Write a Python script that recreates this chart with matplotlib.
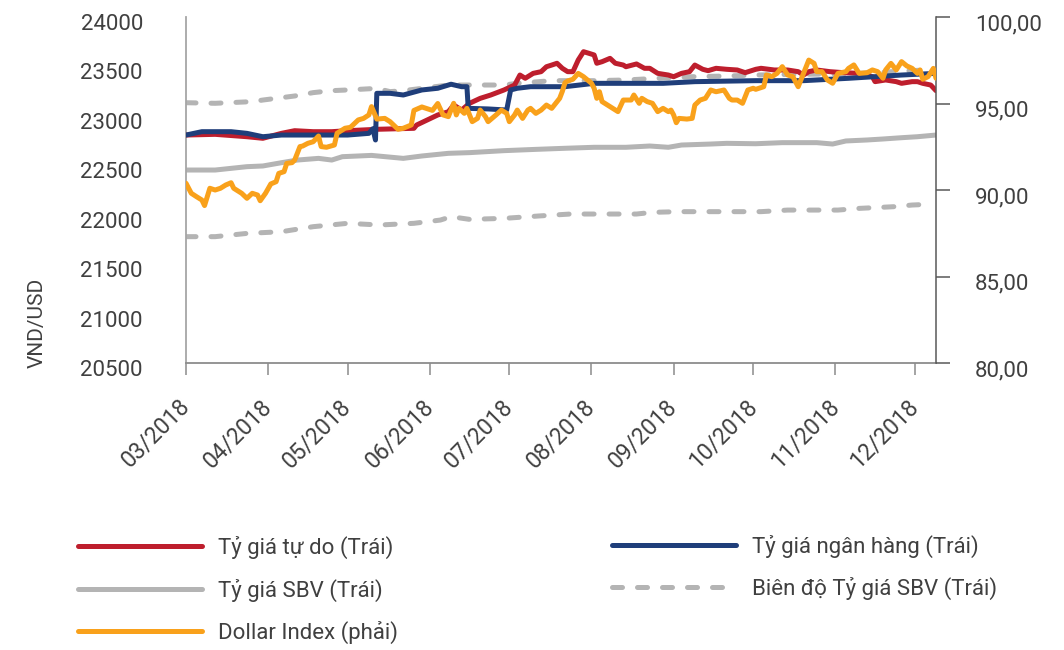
import numpy as np
import matplotlib
matplotlib.use('Agg')
import matplotlib.pyplot as plt
import matplotlib.dates as mdates
import matplotlib.transforms as mtransforms
from matplotlib.lines import Line2D
from matplotlib.ticker import FuncFormatter

plt.rcParams['font.family'] = ['Roboto', 'DejaVu Sans']

# ---------------- data (x = days since 2018-03-01) ----------------
start_date = '2018-03-01'
end_day = 283

free_days = [0, 11, 23, 29, 36, 41, 48, 55, 61, 72, 86, 87, 91, 95, 99, 101, 104, 107, 111, 115,
             120, 124, 126, 128, 131, 134, 136, 138, 140, 142, 144, 146, 148, 150, 152, 154, 155, 157, 160, 162,
             165, 166, 170, 173, 175, 178, 182, 184, 187, 190, 192, 195, 197, 200, 204, 208, 211, 215, 217, 222,
             227, 231, 233, 235, 238, 243, 248, 254, 259, 260, 264, 268, 270, 274, 276, 278, 281, 283]
free_vals = [22806, 22813, 22789, 22773, 22823, 22850, 22840, 22840, 22850, 22864, 22874, 22907, 22958, 23009, 23042, 23110, 23059, 23127, 23177, 23211,
             23262, 23312, 23413, 23380, 23430, 23447, 23497, 23514, 23532, 23481, 23447, 23447, 23565, 23649, 23633, 23616, 23532, 23548, 23582, 23532,
             23514, 23497, 23525, 23481, 23481, 23430, 23413, 23396, 23430, 23447, 23514, 23471, 23457, 23481, 23471, 23464, 23437, 23471, 23481, 23464,
             23464, 23447, 23413, 23447, 23464, 23447, 23437, 23430, 23396, 23346, 23363, 23346, 23329, 23346, 23346, 23329, 23312, 23255]

bank_days = [0, 6, 17, 23, 29, 36, 48, 61, 69, 70.5, 71.5, 72, 77, 82, 89, 95, 100, 104, 106, 106.5,
             114, 121, 122.5, 125, 130, 143, 154, 180, 192, 215, 233, 250, 270, 283]
bank_vals = [22806, 22840, 22840, 22823, 22789, 22806, 22806, 22806, 22823, 22870, 22756, 23228, 23228, 23211, 23262, 23279, 23320, 23295, 23295, 23076,
             23070, 23059, 23262, 23279, 23295, 23295, 23329, 23329, 23346, 23356, 23356, 23380, 23413, 23430]

sbv_days = [0, 11, 17, 23, 29, 36, 42, 50, 55, 59, 70, 82, 89, 99, 107, 120, 132, 143, 154, 166,
            175, 182, 187, 198, 204, 215, 225, 238, 244, 249, 257, 263, 270, 276, 283]
sbv_vals = [22452, 22452, 22469, 22486, 22493, 22526, 22553, 22570, 22553, 22587, 22600, 22570, 22594, 22621, 22628, 22648, 22661, 22672, 22682, 22682,
            22695, 22682, 22705, 22715, 22722, 22718, 22729, 22729, 22715, 22746, 22756, 22766, 22779, 22789, 22806]

band_up_days = [0, 11, 25, 29, 41, 48, 55, 61, 72, 77, 82, 89, 99, 107, 120, 125, 138, 154, 166, 178,
                191, 204, 215, 230, 250, 265, 283]
band_up_vals = [23133, 23127, 23144, 23160, 23201, 23235, 23255, 23262, 23278, 23245, 23255, 23278, 23312, 23312, 23312, 23329, 23356, 23356, 23363, 23380,
                23396, 23403, 23413, 23420, 23425, 23445, 23470]

band_lo_days = [0, 11, 23, 36, 48, 61, 73, 86, 96, 100, 107, 120, 133, 145, 157, 170, 176, 186, 204, 217,
                227, 246, 254, 267, 274, 280]
band_lo_vals = [21778, 21778, 21811, 21828, 21879, 21913, 21896, 21913, 21946, 21980, 21953, 21963, 21987, 22007, 22007, 22007, 22024, 22031, 22031, 22031,
                22047, 22047, 22064, 22081, 22098, 22105]

dxy_days = [0, 2, 4, 6, 7, 9, 11, 13, 15, 17, 18, 21, 23, 25, 27, 28, 30, 32, 34, 35,
            37, 38, 40, 41, 43, 44, 46, 48, 50, 51, 53, 56, 57, 60, 62, 63, 65, 67, 69, 70,
            72, 75, 77, 80, 82, 85, 86, 89, 91, 93, 95, 97, 99, 101, 102, 103, 105, 106, 108, 110,
            111, 113, 114, 117, 119, 121, 122, 124, 125, 127, 129, 130, 132, 134, 136, 138, 140, 141, 142, 143,
            144, 146, 148, 150, 153, 154, 155, 156, 157, 160, 163, 165, 168, 169, 171, 172, 174, 176, 178, 180,
            182, 183, 184, 185, 186, 189, 191, 192, 194, 196, 198, 200, 203, 205, 206, 208, 210, 212, 214, 215,
            218, 219, 221, 223, 225, 227, 229, 231, 233, 235, 237, 238, 240, 242, 244, 246, 249, 250, 252, 254,
            257, 259, 261, 263, 264, 266, 268, 270, 272, 274, 276, 277, 278, 280, 282, 283]
dxy_vals = [90.39, 89.81, 89.61, 89.42, 89.10, 90.10, 90.00, 90.10, 90.29, 90.42, 90.10, 89.81, 89.52, 89.81, 89.71, 89.38, 89.81, 90.35, 90.48, 90.96,
            91.06, 91.54, 91.58, 91.73, 92.51, 92.54, 92.70, 92.79, 93.12, 92.51, 92.47, 92.60, 93.28, 93.57, 93.62, 93.76, 94.05, 94.14, 94.34, 94.82,
            94.10, 94.14, 93.95, 93.51, 93.57, 93.76, 94.60, 94.80, 94.70, 94.60, 95.00, 94.34, 94.24, 95.01, 94.34, 94.72, 94.43, 94.72, 93.95, 94.14,
            94.62, 94.24, 93.95, 94.34, 94.62, 94.43, 93.95, 94.34, 94.62, 94.14, 94.62, 94.72, 94.43, 94.62, 94.91, 94.72, 95.11, 95.30, 95.70, 96.20,
            96.30, 96.40, 96.74, 96.55, 96.17, 95.88, 95.30, 95.68, 95.11, 94.82, 94.53, 95.20, 95.20, 95.49, 95.01, 95.30, 95.11, 95.01, 94.53, 94.72,
            94.53, 94.62, 94.34, 93.89, 94.14, 94.10, 94.14, 94.91, 95.20, 95.30, 95.78, 95.68, 95.78, 95.30, 95.20, 95.20, 95.01, 95.78, 95.88, 95.82,
            95.97, 96.65, 96.55, 96.74, 97.13, 96.65, 96.55, 95.97, 96.74, 97.51, 97.32, 96.84, 96.84, 96.36, 96.17, 96.74, 96.84, 97.03, 97.23, 96.74,
            96.78, 96.94, 96.84, 96.46, 96.94, 97.32, 96.94, 97.42, 97.17, 97.03, 96.74, 96.94, 96.40, 96.55, 97.03, 96.46]

left_ticks = [20500, 21000, 21500, 22000, 22500, 23000, 23500, 24000]
right_ticks = [80, 85, 90, 95, 100]

labels = ['Tỷ giá tự do (Trái)', 'Tỷ giá ngân hàng (Trái)', 'Tỷ giá SBV (Trái)',
          'Biên độ Tỷ giá SBV (Trái)', 'Dollar Index (phải)']

# ---------------- styles ----------------
RED = '#BE1E2D'
BLUE = '#1F3E7A'
GRAY = '#B4B4B4'
ORANGE = '#F9A11B'
TXT = '#404040'
LW = 3.6
DASH = (2.0, 3.0)

t0 = np.datetime64(start_date)


def to_dates(days):
    return t0 + np.round(np.asarray(days, dtype=float) * 24).astype('timedelta64[h]')


fig = plt.figure(figsize=(10.64, 6.5), dpi=100)
W, H = 1064, 650
ax = fig.add_axes([186 / W, 1 - 363 / H, (936 - 186) / W, (363 - 17) / H])
ax2 = ax.twinx()

common = dict(lw=LW, solid_capstyle='round', solid_joinstyle='round')
ax.plot(to_dates(band_up_days), band_up_vals, color=GRAY, lw=LW, dashes=DASH,
        dash_capstyle='round', zorder=1)
ax.plot(to_dates(band_lo_days), band_lo_vals, color=GRAY, lw=LW, dashes=DASH,
        dash_capstyle='round', zorder=1)
ax.plot(to_dates(sbv_days), sbv_vals, color=GRAY, zorder=2, **common)
ax.plot(to_dates(free_days), free_vals, color=RED, zorder=3, **common)
ax.plot(to_dates(bank_days), bank_vals, color=BLUE, zorder=4, **common)
ax2.plot(to_dates(dxy_days), dxy_vals, color=ORANGE, zorder=5, **common)

ax.set_xlim(to_dates([0])[0], to_dates([end_day])[0])
ax.set_ylim(20500, 24000)
ax.set_yticks(left_ticks)
ax2.set_ylim(80, 100)
ax2.set_yticks(right_ticks)
ax2.yaxis.set_major_formatter(FuncFormatter(lambda v, p: f'{v:.2f}'.replace('.', ',')))

ax.xaxis.set_major_locator(mdates.MonthLocator())
ax.xaxis.set_major_formatter(mdates.DateFormatter('%m/%Y'))

for a in (ax, ax2):
    a.spines['top'].set_visible(False)
ax.spines['right'].set_visible(False)
ax2.spines['left'].set_visible(False)
ax2.spines['bottom'].set_visible(False)
ax.spines['left'].set_color('#A6A6A6')
ax.spines['left'].set_linewidth(1.3)
ax.spines['bottom'].set_color('#8C8C8C')
ax.spines['bottom'].set_linewidth(1.3)
ax2.spines['right'].set_color('#595959')
ax2.spines['right'].set_linewidth(1.1)

ax.tick_params(axis='y', length=0, pad=31, labelsize=16, labelcolor=TXT)
ax.tick_params(axis='x', length=8.6, width=1.1, color='#8C8C8C', pad=20,
               labelsize=16.5, labelcolor=TXT)
ax2.tick_params(axis='y', length=10, width=1.1, color='#595959', pad=18,
                labelsize=16, labelcolor=TXT)

for lab in ax.get_xticklabels():
    lab.set_rotation(45)
    lab.set_ha('right')
    lab.set_va('center')
    lab.set_rotation_mode('anchor')

shift = mtransforms.ScaledTranslation(0, -5 / 100, fig.dpi_scale_trans)
for lab in ax.get_yticklabels() + ax2.get_yticklabels():
    lab.set_transform(lab.get_transform() + shift)

fig.text(37 / W, 1 - 323 / H, 'VND/USD', rotation=90, ha='center', va='center',
         fontsize=15, color=TXT)

# ---------------- legend ----------------
h_free = Line2D([], [], color=RED, lw=LW, solid_capstyle='round')
h_bank = Line2D([], [], color=BLUE, lw=LW, solid_capstyle='round')
h_sbv = Line2D([], [], color=GRAY, lw=LW, solid_capstyle='round')
h_band = Line2D([], [], color=GRAY, lw=LW, dashes=DASH, dash_capstyle='round')
h_dxy = Line2D([], [], color=ORANGE, lw=LW, solid_capstyle='round')

leg_kw = dict(frameon=False, fontsize=16, handlelength=5.6, handletextpad=0.72,
              labelspacing=0.86, borderpad=0, borderaxespad=0, labelcolor=TXT)
leg1 = fig.legend([h_free, h_sbv, h_dxy], [labels[0], labels[2], labels[4]],
                  loc='center left', bbox_to_anchor=(78 / W, 1 - 590 / H), **leg_kw)
leg2 = fig.legend([h_bank, h_band], [labels[1], labels[3]],
                  loc='center left', bbox_to_anchor=(612 / W, 1 - 567.5 / H), **leg_kw)

fig.savefig('out.png', dpi=100, facecolor='white')
